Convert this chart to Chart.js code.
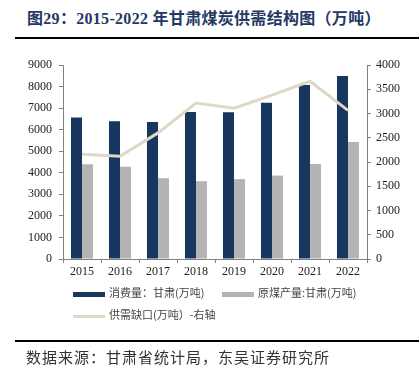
<!DOCTYPE html>
<html>
<head>
<meta charset="utf-8">
<script src="https://cdn.jsdelivr.net/npm/chart.js@4.4.0/dist/chart.umd.min.js"></script>
<style>
  body { margin: 0; width: 419px; height: 373px; background: #fff; position: relative; overflow: hidden; }
  #grafico { position: absolute; left: 0; top: 0; }
  .titulo { position: absolute; left: 27px; top: 5px; font: bold 16px "Liberation Serif", "Noto Sans CJK SC", serif; color: #1f3864; white-space: nowrap; letter-spacing: 0.3px; }
  .linha { position: absolute; left: 15px; width: 404px; height: 2px; background: #000; }
  .fonte { position: absolute; left: 26px; top: 346px; font: 15px "Noto Sans CJK SC", sans-serif; color: #333; white-space: nowrap; letter-spacing: 1px; }
  .legenda { position: absolute; font: 11px "Noto Sans CJK SC", sans-serif; color: #444; white-space: nowrap; }
  .legenda span { display: inline-block; vertical-align: middle; margin-right: 4px; }
</style>
</head>
<body>
<div class="titulo">图29：2015-2022 年甘肃煤炭供需结构图（万吨）</div>
<div class="linha" style="top:37px"></div>
<canvas id="grafico" width="419" height="373"></canvas>
<div id="leg"></div>
<div class="linha" style="top:340px"></div>
<div class="fonte">数据来源：甘肃省统计局，东吴证券研究所</div>
<script>
const anos = ['2015', '2016', '2017', '2018', '2019', '2020', '2021', '2022']
const consumo = [6560, 6390, 6360, 6820, 6810, 7250, 8070, 8490]
const producao = [4400, 4275, 3750, 3610, 3705, 3870, 4410, 5430]
const gap = [2160, 2120, 2600, 3215, 3110, 3380, 3665, 3065]

const corEixo = '#808080'
const fonteTick = { family: 'Liberation Serif', size: 12 }
const semVirgula = v => String(v)

const ctx = document.getElementById('grafico')

const grafico = new Chart(ctx, {
    type: 'bar',
    data: {
        labels: anos,
        datasets: [{
            label: '消费量：甘肃(万吨)',
            data: consumo,
            backgroundColor: '#17375e',
            yAxisID: 'y',
            order: 1,
            categoryPercentage: 0.58,
            barPercentage: 1
        }, {
            label: '原煤产量:甘肃(万吨)',
            data: producao,
            backgroundColor: '#b4b4b4',
            yAxisID: 'y',
            order: 1,
            categoryPercentage: 0.58,
            barPercentage: 1
        }, {
            type: 'line',
            label: '供需缺口(万吨）-右轴',
            data: gap,
            borderColor: '#ddd9c4',
            backgroundColor: '#ddd9c4',
            borderWidth: 3,
            pointRadius: 0,
            tension: 0,
            yAxisID: 'y1',
            order: 0
        }]
    },
    options: {
        responsive: false,
        animation: false,
        layout: { padding: { top: 65, bottom: 94, left: 0, right: 0 } },
        plugins: { legend: { display: false }, tooltip: { enabled: false } },
        scales: {
            x: {
                grid: { drawOnChartArea: false, tickLength: 4, color: corEixo },
                border: { color: corEixo },
                ticks: { color: '#222', font: fonteTick, padding: 2, maxRotation: 0 },
                afterFit: s => { s.height = 20 }
            },
            y: {
                position: 'left',
                min: 0, max: 9000,
                ticks: { stepSize: 1000, color: '#222', font: fonteTick, padding: 7, callback: semVirgula },
                grid: { drawOnChartArea: false, tickLength: 4, color: corEixo },
                border: { color: corEixo },
                afterFit: s => { s.width = 63 }
            },
            y1: {
                position: 'right',
                min: 0, max: 4000,
                ticks: { stepSize: 500, color: '#222', font: fonteTick, padding: 5, callback: semVirgula },
                grid: { drawOnChartArea: false, tickLength: 4, color: corEixo },
                border: { color: corEixo },
                afterFit: s => { s.width = 52 }
            }
        }
    }
})

// legenda em html, tirada dos datasets
const posLeg = [[73, 284], [222, 284], [73, 306]]
const leg = document.getElementById('leg')
grafico.data.datasets.forEach((d, i) => {
    const el = document.createElement('div')
    el.className = 'legenda'
    el.style.left = posLeg[i][0] + 'px'
    el.style.top = posLeg[i][1] + 'px'
    const alt = d.type === 'line' ? 3 : 5
    el.innerHTML = '<span style="width:32px;height:' + alt + 'px;background:' + d.backgroundColor + '"></span>' + d.label
    leg.appendChild(el)
})
</script>
</body>
</html>
